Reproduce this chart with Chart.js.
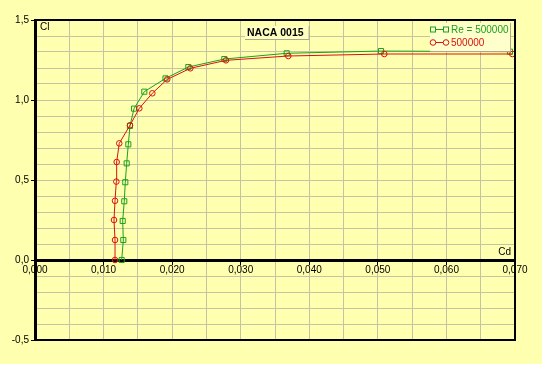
<!DOCTYPE html>
<html>
<head>
<meta charset="utf-8">
<script src="https://cdn.jsdelivr.net/npm/chart.js@4"></script>
<style>
  body { margin: 0; background: #fff; }
  #wrap { width: 542px; height: 364px; }
</style>
</head>
<body>
<div id="wrap"><canvas id="polar" width="542" height="364"></canvas></div>
<script>
// NACA 0015 polar, Cl vs Cd
const cdGreen = [0.01264, 0.01288, 0.01279, 0.01302, 0.01317, 0.01337, 0.01361, 0.01385, 0.01444, 0.01594, 0.01903, 0.02236, 0.02761, 0.03671, 0.05046, 0.06927];
const clGreen = [0.0, 0.125, 0.244, 0.367, 0.486, 0.604, 0.723, 0.838, 0.946, 1.052, 1.135, 1.206, 1.256, 1.292, 1.306, 1.302];
const cdRed = [0.01167, 0.01167, 0.01152, 0.01167, 0.01186, 0.01191, 0.01229, 0.01385, 0.01521, 0.01711, 0.01928, 0.02265, 0.02785, 0.03694, 0.05094, 0.06961];
const clRed = [0.0, 0.125, 0.25, 0.37, 0.49, 0.6125, 0.729, 0.842, 0.948, 1.042, 1.129, 1.198, 1.248, 1.275, 1.2875, 1.2875];
const seriesNames = ["Re = 500000", "500000"];
const titleText = "NACA 0015";

const BG = "#ffffb0";
const GREEN = "#1ca01c";
const RED = "#dc1010";
const FONT = "'Liberation Sans', Arial, sans-serif";

const toPts = (xs, ys) => xs.map((x, i) => ({ x: x, y: ys[i] }));

const bgPlugin = {
  id: "bg",
  beforeDraw(chart) {
    const ctx = chart.ctx;
    ctx.save();
    ctx.fillStyle = BG;
    ctx.fillRect(0, 0, chart.width, chart.height);
    ctx.restore();
  }
};

// frame, axis names, title box and legend box
const decoPlugin = {
  id: "deco",
  afterDraw(chart) {
    const ctx = chart.ctx;
    const a = chart.chartArea;
    ctx.save();
    ctx.strokeStyle = "#000";
    ctx.lineWidth = 2;
    ctx.beginPath();
    ctx.moveTo(a.left, a.top);
    ctx.lineTo(a.right, a.top);
    ctx.lineTo(a.right, a.bottom);
    ctx.lineTo(a.left, a.bottom);
    ctx.stroke();

    ctx.fillStyle = "#000";
    ctx.font = "10px " + FONT;
    ctx.textBaseline = "top";
    ctx.textAlign = "left";
    ctx.fillText("Cl", a.left + 5, a.top + 2);
    const y0 = chart.scales.y.getPixelForValue(0);
    ctx.textAlign = "right";
    ctx.textBaseline = "bottom";
    ctx.fillText("Cd", a.right - 4, y0 - 3);

    // title box
    ctx.font = "bold 10.5px " + FONT;
    const tw = ctx.measureText(titleText).width;
    const bx = 245, by = 26, bw = tw + 7, bh = 13;
    ctx.fillStyle = "#ffffc0";
    ctx.fillRect(bx, by, bw, bh);
    ctx.strokeStyle = "#a8a890";
    ctx.lineWidth = 1;
    ctx.beginPath();
    ctx.moveTo(bx + bw + 0.5, by);
    ctx.lineTo(bx + bw + 0.5, by + bh + 0.5);
    ctx.lineTo(bx, by + bh + 0.5);
    ctx.stroke();
    ctx.fillStyle = "#000";
    ctx.textAlign = "left";
    ctx.textBaseline = "middle";
    ctx.fillText(titleText, bx + 2, by + bh / 2 + 1);

    // legend box
    const lx = 430, ly = 23, lw = 80, lh = 28;
    ctx.fillStyle = "#ffffcc";
    ctx.fillRect(lx, ly, lw, lh);
    ctx.strokeStyle = "#a8a890";
    ctx.beginPath();
    ctx.moveTo(lx + lw + 0.5, ly);
    ctx.lineTo(lx + lw + 0.5, ly + lh + 0.5);
    ctx.lineTo(lx, ly + lh + 0.5);
    ctx.stroke();
    ctx.font = "10px " + FONT;
    chart.data.datasets.forEach((ds, i) => {
      const yy = ly + 6.5 + i * 13;
      ctx.strokeStyle = ds.borderColor;
      ctx.lineWidth = 1;
      ctx.beginPath();
      ctx.moveTo(lx + 3, yy);
      ctx.lineTo(lx + 16, yy);
      ctx.stroke();
      [lx + 3, lx + 16].forEach(px => {
        ctx.beginPath();
        ctx.fillStyle = "#ffffcc";
        if (ds.pointStyle === "rect") {
          ctx.fillRect(px - 2.5, yy - 2.5, 5, 5);
          ctx.strokeRect(px - 2.5, yy - 2.5, 5, 5);
        } else {
          ctx.arc(px, yy, 2.8, 0, Math.PI * 2);
          ctx.fill();
          ctx.stroke();
        }
      });
      ctx.fillStyle = ds.borderColor;
      ctx.textAlign = "left";
      ctx.textBaseline = "middle";
      ctx.fillText(ds.label, lx + 21, yy + 0.5);
    });
    ctx.restore();
  }
};

new Chart(document.getElementById("polar"), {
  type: "scatter",
  data: {
    datasets: [
      {
        label: seriesNames[0],
        data: toPts(cdGreen, clGreen),
        showLine: true,
        borderColor: GREEN,
        borderWidth: 1,
        pointStyle: "rect",
        pointRadius: 3.6,
        pointBorderWidth: 1,
        pointBackgroundColor: "rgba(0,0,0,0)",
        pointBorderColor: GREEN,
        order: 2
      },
      {
        label: seriesNames[1],
        data: toPts(cdRed, clRed),
        showLine: true,
        borderColor: RED,
        borderWidth: 1,
        pointStyle: "circle",
        pointRadius: 2.8,
        pointBorderWidth: 1,
        pointBackgroundColor: "rgba(0,0,0,0)",
        pointBorderColor: RED,
        order: 1
      }
    ]
  },
  options: {
    responsive: false,
    animation: false,
    layout: { padding: { left: 0, top: 20, right: 27, bottom: 24 } },
    plugins: {
      legend: { display: false },
      tooltip: { enabled: false },
      title: { display: false }
    },
    scales: {
      x: {
        type: "linear",
        position: { y: 0 },
        min: 0,
        max: 0.07,
        afterFit: (s) => { s.height = 0; },
        ticks: {
          stepSize: 0.005,
          autoSkip: false,
          maxRotation: 0,
          padding: 1,
          color: "#000",
          font: { family: FONT, size: 10 },
          callback: (v) => {
            const k = Math.round(v * 1000);
            return k % 10 === 0 ? (k / 1000).toFixed(3).replace(".", ",") : "";
          }
        },
        grid: {
          color: "#c4c4a4",
          lineWidth: 1,
          tickLength: 3,
          tickColor: (c) => (Math.round(c.tick.value * 1000) % 10 === 0 ? "#000" : "rgba(0,0,0,0)")
        },
        border: { color: "#000", width: 3 }
      },
      y: {
        type: "linear",
        position: "left",
        min: -0.5,
        max: 1.5,
        afterFit: (s) => { s.width = 35; },
        ticks: {
          stepSize: 0.1,
          autoSkip: false,
          padding: 2,
          color: "#000",
          font: { family: FONT, size: 10 },
          callback: (v) => {
            const k = Math.round(v * 10);
            return k % 5 === 0 ? (k / 10).toFixed(1).replace(".", ",") : "";
          }
        },
        grid: {
          color: "#c4c4a4",
          lineWidth: 1,
          tickLength: 4,
          tickColor: (c) => (Math.round(c.tick.value * 10) % 5 === 0 ? "#000" : "rgba(0,0,0,0)")
        },
        border: { color: "#000", width: 3 }
      }
    }
  },
  plugins: [bgPlugin, decoPlugin]
});
</script>
</body>
</html>
